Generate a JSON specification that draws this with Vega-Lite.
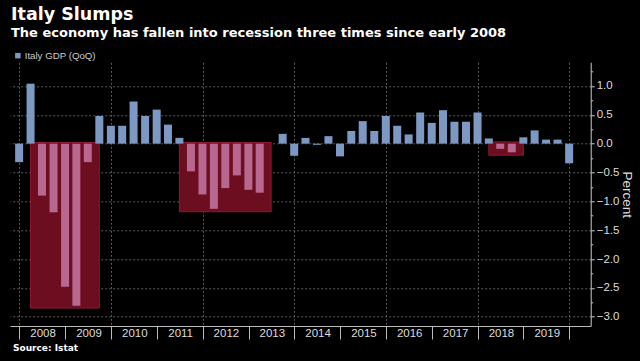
{
  "$schema": "https://vega.github.io/schema/vega-lite/v6.json",
  "width": 580.7,
  "height": 263.7,
  "autosize": {"type": "none"},
  "padding": {"left": 10, "top": 62.3, "right": 49.3, "bottom": 35},
  "background": "#000000",
  "title": {
    "text": "Italy Slumps",
    "subtitle": "The economy has fallen into recession three times since early 2008",
    "anchor": "start",
    "frame": "group",
    "font": "DejaVu Sans",
    "fontSize": 17.5,
    "fontWeight": "bold",
    "color": "#ffffff",
    "subtitleFont": "DejaVu Sans",
    "subtitleFontSize": 13,
    "subtitleFontWeight": "bold",
    "subtitleColor": "#ffffff",
    "subtitlePadding": 4,
    "offset": 10.5,
    "dx": 1
  },
  "datasets": {
    "gdp": [
      {"date": "2007-12-31", "gdp": -0.32, "series": "Italy GDP (QoQ)"},
      {"date": "2008-03-31", "gdp": 1.04, "series": "Italy GDP (QoQ)"},
      {"date": "2008-06-30", "gdp": -0.90, "series": "In recession"},
      {"date": "2008-09-30", "gdp": -1.19, "series": "In recession"},
      {"date": "2008-12-31", "gdp": -2.48, "series": "In recession"},
      {"date": "2009-03-31", "gdp": -2.81, "series": "In recession"},
      {"date": "2009-06-30", "gdp": -0.32, "series": "In recession"},
      {"date": "2009-09-30", "gdp": 0.48, "series": "Italy GDP (QoQ)"},
      {"date": "2009-12-31", "gdp": 0.31, "series": "Italy GDP (QoQ)"},
      {"date": "2010-03-31", "gdp": 0.31, "series": "Italy GDP (QoQ)"},
      {"date": "2010-06-30", "gdp": 0.73, "series": "Italy GDP (QoQ)"},
      {"date": "2010-09-30", "gdp": 0.48, "series": "Italy GDP (QoQ)"},
      {"date": "2010-12-31", "gdp": 0.59, "series": "Italy GDP (QoQ)"},
      {"date": "2011-03-31", "gdp": 0.33, "series": "Italy GDP (QoQ)"},
      {"date": "2011-06-30", "gdp": 0.10, "series": "Italy GDP (QoQ)"},
      {"date": "2011-09-30", "gdp": -0.48, "series": "In recession"},
      {"date": "2011-12-31", "gdp": -0.88, "series": "In recession"},
      {"date": "2012-03-31", "gdp": -1.13, "series": "In recession"},
      {"date": "2012-06-30", "gdp": -0.77, "series": "In recession"},
      {"date": "2012-09-30", "gdp": -0.55, "series": "In recession"},
      {"date": "2012-12-31", "gdp": -0.80, "series": "In recession"},
      {"date": "2013-03-31", "gdp": -0.85, "series": "In recession"},
      {"date": "2013-06-30", "gdp": 0.0, "series": "Italy GDP (QoQ)"},
      {"date": "2013-09-30", "gdp": 0.17, "series": "Italy GDP (QoQ)"},
      {"date": "2013-12-31", "gdp": -0.21, "series": "Italy GDP (QoQ)"},
      {"date": "2014-03-31", "gdp": 0.10, "series": "Italy GDP (QoQ)"},
      {"date": "2014-06-30", "gdp": -0.02, "series": "Italy GDP (QoQ)"},
      {"date": "2014-09-30", "gdp": 0.13, "series": "Italy GDP (QoQ)"},
      {"date": "2014-12-31", "gdp": -0.22, "series": "Italy GDP (QoQ)"},
      {"date": "2015-03-31", "gdp": 0.22, "series": "Italy GDP (QoQ)"},
      {"date": "2015-06-30", "gdp": 0.39, "series": "Italy GDP (QoQ)"},
      {"date": "2015-09-30", "gdp": 0.22, "series": "Italy GDP (QoQ)"},
      {"date": "2015-12-31", "gdp": 0.48, "series": "Italy GDP (QoQ)"},
      {"date": "2016-03-31", "gdp": 0.31, "series": "Italy GDP (QoQ)"},
      {"date": "2016-06-30", "gdp": 0.16, "series": "Italy GDP (QoQ)"},
      {"date": "2016-09-30", "gdp": 0.54, "series": "Italy GDP (QoQ)"},
      {"date": "2016-12-31", "gdp": 0.36, "series": "Italy GDP (QoQ)"},
      {"date": "2017-03-31", "gdp": 0.58, "series": "Italy GDP (QoQ)"},
      {"date": "2017-06-30", "gdp": 0.38, "series": "Italy GDP (QoQ)"},
      {"date": "2017-09-30", "gdp": 0.38, "series": "Italy GDP (QoQ)"},
      {"date": "2017-12-31", "gdp": 0.54, "series": "Italy GDP (QoQ)"},
      {"date": "2018-03-31", "gdp": 0.09, "series": "Italy GDP (QoQ)"},
      {"date": "2018-06-30", "gdp": -0.09, "series": "In recession"},
      {"date": "2018-09-30", "gdp": -0.15, "series": "In recession"},
      {"date": "2018-12-31", "gdp": 0.11, "series": "Italy GDP (QoQ)"},
      {"date": "2019-03-31", "gdp": 0.23, "series": "Italy GDP (QoQ)"},
      {"date": "2019-06-30", "gdp": 0.07, "series": "Italy GDP (QoQ)"},
      {"date": "2019-09-30", "gdp": 0.07, "series": "Italy GDP (QoQ)"},
      {"date": "2019-12-31", "gdp": -0.34, "series": "Italy GDP (QoQ)"}
    ],
    "recessions": [
      {"start": "2008-03-31", "end": "2009-09-30", "top": 0.02, "low": -2.85},
      {"start": "2011-06-30", "end": "2013-06-30", "top": 0.02, "low": -1.18},
      {"start": "2018-03-31", "end": "2018-12-31", "top": 0.03, "low": -0.20}
    ]
  },
  "layer": [
    {
      "data": {"name": "recessions"},
      "mark": {"type": "rect", "color": "#6c0d20", "stroke": "#8a1a30", "strokeWidth": 1},
      "encoding": {
        "x": {
          "field": "start", "type": "temporal",
          "scale": {"type": "utc", "domain": [{"year": 2007, "month": 11, "date": 28, "utc": true}, {"year": 2020, "month": 5, "date": 11, "utc": true}]}
        },
        "x2": {"field": "end"},
        "y": {"field": "top", "type": "quantitative", "scale": {"domain": [-3.16, 1.41], "nice": false, "zero": false}},
        "y2": {"field": "low"}
      }
    },
    {
      "data": {"name": "gdp"},
      "mark": {"type": "bar", "width": 8},
      "encoding": {
        "x": {
          "field": "date", "type": "temporal",
          "scale": {"type": "utc", "domain": [{"year": 2007, "month": 11, "date": 28, "utc": true}, {"year": 2020, "month": 5, "date": 11, "utc": true}]},
          "axis": {
            "values": [
              {"year": 2008, "utc": true}, {"year": 2009, "utc": true}, {"year": 2010, "utc": true},
              {"year": 2011, "utc": true}, {"year": 2012, "utc": true}, {"year": 2013, "utc": true},
              {"year": 2014, "utc": true}, {"year": 2015, "utc": true}, {"year": 2016, "utc": true},
              {"year": 2017, "utc": true}, {"year": 2018, "utc": true}, {"year": 2019, "utc": true},
              {"year": 2020, "utc": true}
            ],
            "tickCount": 40,
            "labelExpr": "utcyear(datum.value) >= 2020 ? '' : '' + utcyear(datum.value)",
            "labelOffset": 23.3,
            "labelAlign": "center",
            "labelPadding": -12,
            "labelOverlap": false,
            "labelBound": false,
            "labelFlush": false,
            "labelFont": "Liberation Sans",
            "labelFontSize": 11.5,
            "labelColor": "#dddddd",
            "tickSize": 13,
            "tickColor": "#bbbbbb",
            "domainColor": "#bbbbbb",
            "grid": true,
            "gridColor": "#5a5a5a",
            "gridDash": [2, 2],
            "gridOpacity": {"condition": {"test": "utcyear(datum.value) % 2 == 1", "value": 0}, "value": 1},
            "title": "Source: Istat",
            "titleFont": "DejaVu Sans",
            "titleFontSize": 9,
            "titleFontWeight": "bold",
            "titleColor": "#ffffff",
            "titleAlign": "left",
            "titleAnchor": "start",
            "titleBaseline": "alphabetic",
            "titleX": 2.5,
            "titleY": 24
          }
        },
        "y": {
          "field": "gdp", "type": "quantitative",
          "scale": {"domain": [-3.16, 1.41], "nice": false, "zero": false},
          "axis": {
            "orient": "right",
            "values": [-3, -2.75, -2.5, -2.25, -2, -1.75, -1.5, -1.25, -1, -0.75, -0.5, -0.25, 0, 0.25, 0.5, 0.75, 1, 1.25],
            "tickCount": 40,
            "labelExpr": "abs(datum.value*2 - round(datum.value*2)) < 0.01 ? format(datum.value, '.1f') : ''",
            "labelFont": "Liberation Sans",
            "labelFontSize": 11.5,
            "labelColor": "#dddddd",
            "labelPadding": 2,
            "labelOverlap": false,
            "tickColor": "#cccccc",
            "tickSize": {"condition": {"test": "abs(datum.value*2 - round(datum.value*2)) > 0.01", "value": 2}, "value": 3.5},
            "domainColor": "#cccccc",
            "grid": true,
            "gridColor": "#5a5a5a",
            "gridDash": [2, 2],
            "gridOpacity": {"condition": {"test": "abs(datum.value*2 - round(datum.value*2)) > 0.01", "value": 0}, "value": 1},
            "title": "Percent",
            "titleFont": "Liberation Sans",
            "titleFontSize": 13.5,
            "titleFontWeight": "normal",
            "titleColor": "#dddddd",
            "titlePadding": 1
          }
        },
        "color": {
          "field": "series", "type": "nominal",
          "scale": {"domain": ["Italy GDP (QoQ)", "In recession"], "range": ["#7d99c3", "#b86890"]},
          "legend": {
            "orient": "none",
            "legendX": 3,
            "legendY": -11.5,
            "values": ["Italy GDP (QoQ)"],
            "title": null,
            "symbolType": "square",
            "symbolSize": 30,
            "symbolStrokeWidth": 0,
            "labelFont": "Liberation Sans",
            "labelFontSize": 9.7,
            "labelColor": "#cccccc",
            "labelOffset": 2
          }
        }
      }
    }
  ],
  "config": {
    "view": {"stroke": null}
  }
}
